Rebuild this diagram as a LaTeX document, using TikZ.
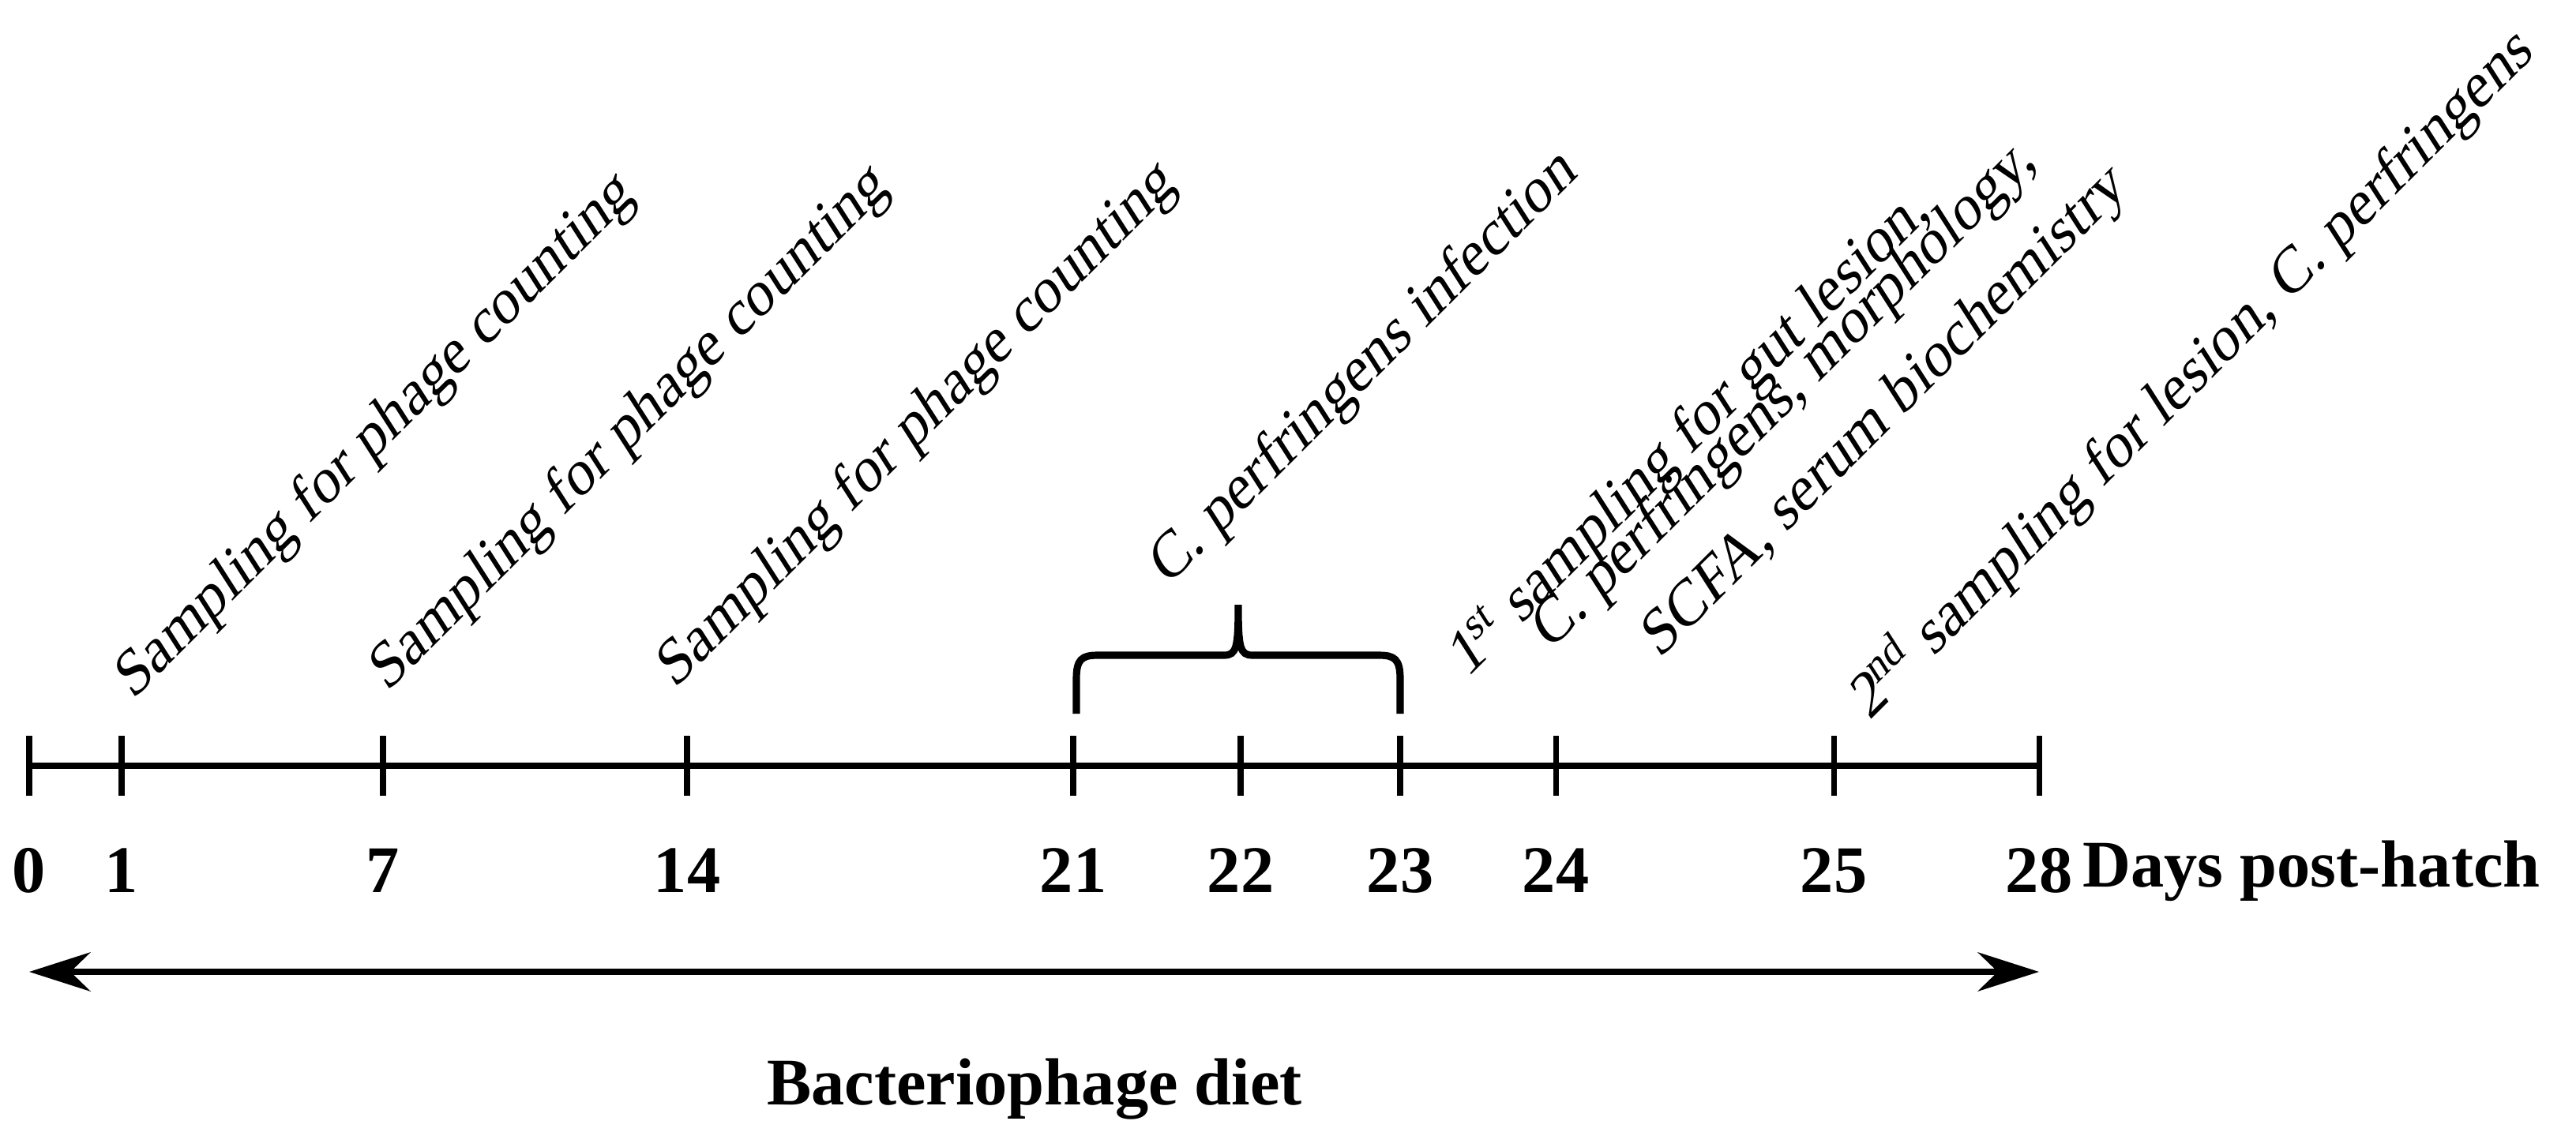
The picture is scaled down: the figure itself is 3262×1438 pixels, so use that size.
\documentclass[tikz,border=0pt]{standalone}
\usepackage{fontspec}
\setmainfont{Liberation Serif}[ItalicFont={Liberation Serif},ItalicFeatures={FakeSlant=0.22},BoldFont={Liberation Serif Bold}]
\usetikzlibrary{arrows.meta}
\begin{document}
\begin{tikzpicture}[x=0.01cm,y=-0.01cm,
  tick/.style={line width=2pt},
  num/.style={font=\fontsize{24}{28}\selectfont\bfseries},
  lab/.style={font=\fontsize{22}{26}\selectfont\itshape,anchor=base west,rotate=45,inner sep=0pt}]
\useasboundingbox (0,0) rectangle (3262,1438);
\coordinate (a0) at (37,970);
\coordinate (a28) at (2582,970);
\draw[line width=2.4pt] (a0) -- (a28);
\foreach \x/\n in {37/0,154/1,485/7,870/14,1359/21,1571/22,1773/23,1970/24,2322/25,2582/28}{
  \draw[tick] (\x,932) -- (\x,1008);
  \node[num] (n\n) at (\x,1103) {\n};
}
\node[num,anchor=west] (dph) at (2625,1103) {Days post-hatch};
\coordinate (b0) at (37,1231);
\coordinate (b1) at (2582,1231);
\draw[line width=2.4pt,{Stealth[length=22pt,width=14pt]}-{Stealth[length=22pt,width=14pt]}] (b0) -- (b1);
\node[num] (diet) at (1310,1380) {Bacteriophage diet};
% brace
\draw[line width=2.6pt] (1363,904) -- (1363,860) .. controls (1363,835) and (1370,830) .. (1390,830) -- (1550,830) .. controls (1566,830) and (1568,820) .. (1568,766)
  .. controls (1568,820) and (1570,830) .. (1586,830) -- (1746,830) .. controls (1766,830) and (1773,835) .. (1773,860) -- (1773,904);
\node[lab] (s1) at (168,888) {Sampling for phage counting};
\node[lab] (s2) at (490,878) {Sampling for phage counting};
\node[lab] (s3) at (854,874) {Sampling for phage counting};
\node[lab] (inf) at (1478,744) {C. perfringens infection};
\node[lab] (f1) at (1858,860) {1\textsuperscript{st} sampling for gut lesion,};
\node[lab] (f2) at (1962,826) {C. perfringens, morphology,};
\node[lab] (f3) at (2101,836) {SCFA, serum biochemistry};
\node[lab] (f4) at (2367,914) {2\textsuperscript{nd} sampling for lesion, C. perfringens};
\end{tikzpicture}
\end{document}
